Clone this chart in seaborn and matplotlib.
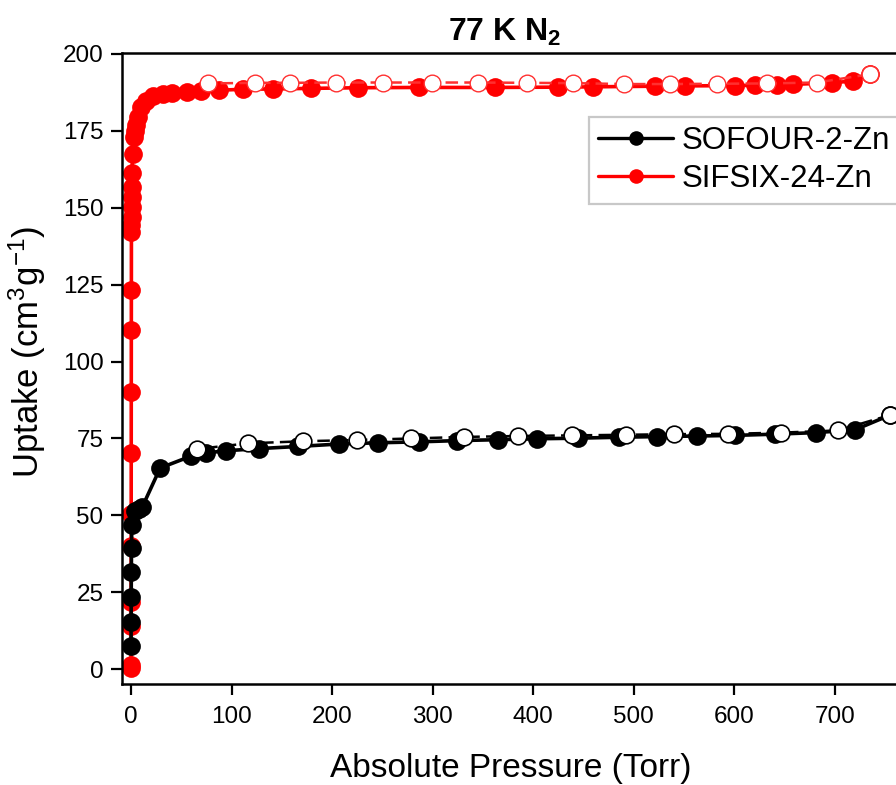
import matplotlib
matplotlib.use("Agg")
import matplotlib.pyplot as plt
from matplotlib.lines import Line2D
import seaborn as sns
import pandas as pd

# ---------------- data ----------------
sofour_ads_p = [0.05, 0.1, 0.2, 0.3, 0.5, 0.8, 4, 8, 11, 29, 60, 75, 94, 127, 166, 207, 246,
                286, 324, 365, 404, 445, 485, 523, 563, 601, 641, 681, 720, 755]
sofour_ads_q = [7.5, 15.5, 23.5, 31.5, 39.5, 47.0, 51.3, 52.2, 52.6, 65.4, 69.3, 70.3, 71.0, 71.7,
                72.4, 73.2, 73.6, 73.9, 74.3, 74.6, 74.9, 75.1, 75.4, 75.6, 75.8, 76.0, 76.4, 76.9, 77.8, 82.6]
sofour_des_p = [755, 703, 647, 594, 540, 492, 439, 385, 331, 279, 225, 171, 116, 66]
sofour_des_q = [82.6, 77.6, 76.9, 76.5, 76.4, 76.2, 76.0, 75.8, 75.5, 75.0, 74.5, 74.1, 73.4, 71.6]

sifsix_ads_p = [0.01, 0.02, 0.05, 0.08, 0.12, 0.16, 0.2, 0.25, 0.3, 0.35, 0.4, 0.45, 0.5, 0.55,
                0.6, 0.8, 1.0, 1.5, 2.5, 3.5, 5, 7, 10, 15, 22, 32, 41, 56, 70, 88, 111, 141,
                179, 226, 286, 362, 425, 460, 521, 551, 601, 621, 643, 659, 697, 718, 735]
sifsix_ads_q = [0.5, 1.5, 14.0, 22.0, 40.0, 50.5, 70.2, 90.2, 110.2, 123.2, 142.2, 144.5, 147.0,
                150.2, 153.5, 156.7, 161.3, 167.5, 172.9, 175.0, 177.0, 179.4, 182.6, 184.8, 186.4,
                187.0, 187.2, 187.5, 188.0, 188.2, 188.5, 188.6, 188.8, 189.0, 189.1, 189.1, 189.2,
                189.3, 189.5, 189.6, 189.7, 189.8, 190.0, 190.1, 190.6, 191.2, 193.4]
sifsix_des_p = [735, 682, 633, 583, 536, 490, 440, 394, 345, 299, 251, 204, 158, 123, 77]
sifsix_des_q = [193.4, 190.7, 190.4, 190.3, 190.2, 190.2, 190.5, 190.6, 190.7, 190.7, 190.7,
                190.7, 190.6, 190.6, 190.4]

x_ticks = [0, 100, 200, 300, 400, 500, 600, 700]
y_ticks = [0, 25, 50, 75, 100, 125, 150, 175, 200]
series_names = ["SOFOUR-2-Zn", "SIFSIX-24-Zn"]
title_text = r"77 K $\mathbf{N_2}$"
xlabel_text = "Absolute Pressure (Torr)"
ylabel_text = r"Uptake (cm$^3$g$^{-1}$)"

# ---------------- style ----------------
sns.set_style("white")
plt.rcParams["font.family"] = ["Liberation Sans", "DejaVu Sans"]
plt.rcParams["mathtext.fontset"] = "custom"
plt.rcParams["mathtext.rm"] = "Liberation Sans"
plt.rcParams["mathtext.bf"] = "Liberation Sans:bold"
plt.rcParams["mathtext.default"] = "regular"
plt.rcParams["text.color"] = "black"
plt.rcParams["axes.labelcolor"] = "black"

fig = plt.figure(figsize=(8.96, 7.85), dpi=100)
ax = fig.add_axes([0.1358, 0.1287, 0.8695, 0.8038])

def frame(p, q):
    return pd.DataFrame({"p": p, "q": q})

RED = "#ff0000"
# SIFSIX (red) first
sns.lineplot(data=frame(sifsix_ads_p, sifsix_ads_q), x="p", y="q", sort=False, estimator=None,
             color=RED, linewidth=2.6, marker="o", markersize=13.5, markeredgewidth=0,
             markerfacecolor=RED, ax=ax, zorder=2)
sns.lineplot(data=frame(sifsix_des_p, sifsix_des_q), x="p", y="q", sort=False, estimator=None,
             color="#ff3030", linewidth=1.8, linestyle=(0, (5, 2.5)), marker="o", markersize=12,
             markerfacecolor="white", markeredgecolor="#ff3030", markeredgewidth=1.0,
             ax=ax, zorder=3)
# SOFOUR (black)
sns.lineplot(data=frame(sofour_ads_p, sofour_ads_q), x="p", y="q", sort=False, estimator=None,
             color="black", linewidth=2.6, marker="o", markersize=13.5, markeredgewidth=0,
             markerfacecolor="black", ax=ax, zorder=4)
sns.lineplot(data=frame(sofour_des_p, sofour_des_q), x="p", y="q", sort=False, estimator=None,
             color="black", linewidth=1.8, linestyle=(0, (5, 2.5)), marker="o", markersize=12,
             markerfacecolor="white", markeredgecolor="black", markeredgewidth=1.2,
             ax=ax, zorder=5)

ax.set_xlim(-9.3, 765.7)
ax.set_ylim(-4.8, 200.3)
ax.set_xticks(x_ticks)
ax.set_yticks(y_ticks)
ax.tick_params(axis="both", direction="out", length=8, width=1.6, labelsize=17.5,
               colors="black", bottom=True, left=True)
ax.tick_params(axis="x", pad=8)
ax.tick_params(axis="y", pad=5)
for s in ["top", "bottom", "left", "right"]:
    ax.spines[s].set_color("black")
    ax.spines[s].set_linewidth(1.8)

ax.set_xlabel(xlabel_text, fontsize=24, labelpad=18)
ax.set_ylabel(ylabel_text, fontsize=25)
ax.yaxis.set_label_coords((48 - 121.7) / (0.8695 * 896), 0.526)
fig.text(505 / 896, 1 - 32 / 785, title_text, ha="center", va="center",
         fontsize=23, fontweight="bold")

handles = [
    Line2D([], [], color="black", lw=2.4, marker="o", markersize=10.5, markeredgewidth=0),
    Line2D([], [], color=RED, lw=2.4, marker="o", markersize=10.5, markeredgewidth=0),
]
leg = ax.legend(handles, series_names, loc="upper left",
                bbox_to_anchor=(589 / 896, 1 - 117 / 785), bbox_transform=fig.transFigure,
                fontsize=22.5, frameon=True, fancybox=False, framealpha=1,
                edgecolor="#c8c8c8", handlelength=2.4, handletextpad=0.25,
                borderpad=0.3, labelspacing=0.25, borderaxespad=0, handleheight=0.7)
leg.get_frame().set_linewidth(1.6)

fig.savefig("out.png", dpi=100)
